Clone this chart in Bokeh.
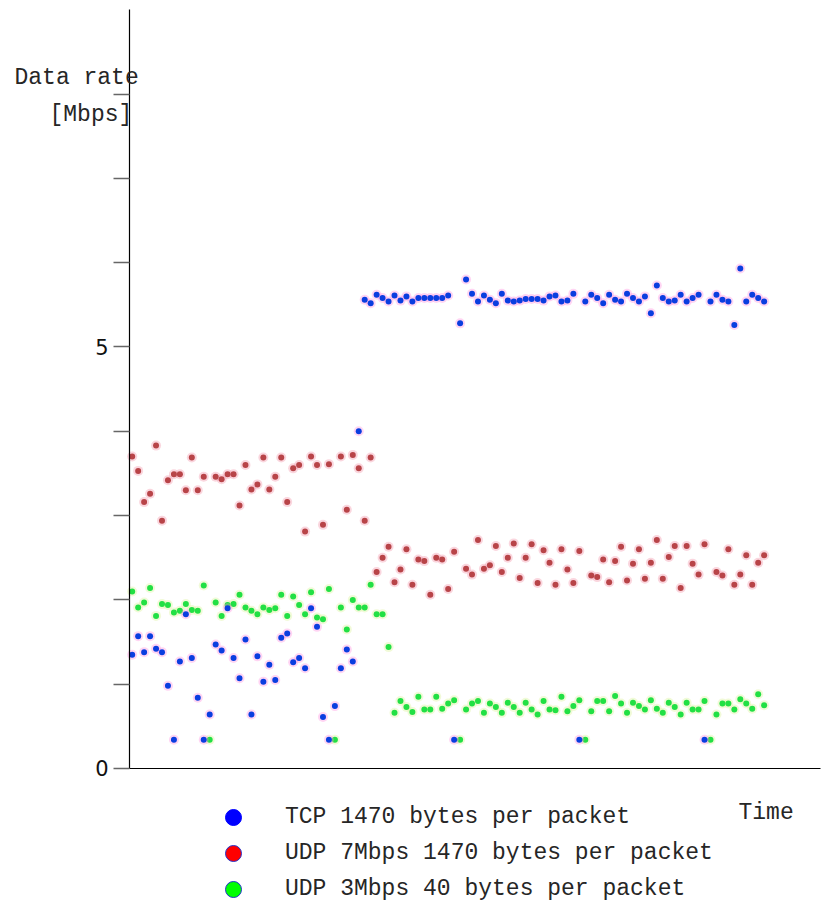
from bokeh.plotting import figure
from bokeh.models import Range1d, FixedTicker, Label, Legend, LegendItem
from bokeh.embed import file_html
from bokeh.resources import INLINE
import numpy as np

# sample number (time axis, no tick labels)
samples = list(range(107))

# TCP 1470 bytes per packet [Mbps]
tcp = [1.35, 1.57, 1.38, 1.57, 1.42, 1.38, 0.98, 0.34, 1.27, 1.83,
       1.31, 0.84, 0.34, 0.64, 1.47, 1.40, 1.90, 1.31, 1.07, 1.53,
       0.64, 1.33, 1.03, 1.23, 1.05, 1.55, 1.60, 1.26, 1.31, 1.19,
       1.90, 1.68, 0.61, 0.34, 0.74, 1.19, 1.41, 1.27, 4.00, 5.56,
       5.52, 5.62, 5.58, 5.54, 5.61, 5.55, 5.60, 5.54, 5.58, 5.58,
       5.58, 5.58, 5.58, 5.61, 0.34, 5.28, 5.80, 5.63, 5.54, 5.61,
       5.56, 5.52, 5.63, 5.55, 5.54, 5.55, 5.57, 5.57, 5.57, 5.55,
       5.60, 5.61, 5.54, 5.55, 5.63, 0.34, 5.54, 5.62, 5.58, 5.52,
       5.62, 5.56, 5.54, 5.63, 5.58, 5.54, 5.60, 5.40, 5.73, 5.58,
       5.54, 5.55, 5.62, 5.54, 5.58, 5.62, 0.34, 5.54, 5.62, 5.56,
       5.54, 5.26, 5.93, 5.54, 5.62, 5.58, 5.54]

# UDP 7Mbps 1470 bytes per packet [Mbps] (None = no sample)
udp7 = [3.70, 3.53, 3.16, 3.26, 3.83, 2.94, 3.42, 3.49, 3.49, 3.30,
        3.69, 3.30, 3.46, None, 3.46, 3.43, 3.49, 3.49, 3.12, 3.60,
        3.31, 3.37, 3.69, 3.31, 3.46, 3.69, 3.16, 3.56, 3.60, 2.81,
        3.70, 3.60, 2.89, 3.61, None, 3.70, 3.07, 3.72, 3.56, 2.94,
        3.69, 2.33, 2.50, 2.63, 2.21, 2.36, 2.60, 2.18, 2.48, 2.46,
        2.06, 2.50, 2.48, 2.13, 2.57, None, 2.37, 2.30, 2.71, 2.37,
        2.41, 2.64, 2.33, 2.50, 2.67, 2.26, 2.50, 2.66, 2.20, 2.59,
        2.44, 2.18, 2.60, 2.36, 2.20, 2.58, None, 2.29, 2.27, 2.48,
        2.21, 2.46, 2.63, 2.23, 2.43, 2.60, 2.25, 2.44, 2.71, 2.25,
        2.51, 2.64, 2.14, 2.64, 2.43, 2.30, 2.66, None, 2.33, 2.29,
        2.60, 2.18, 2.30, 2.53, 2.18, 2.44, 2.53]

# UDP 3Mbps 40 bytes per packet [Mbps]
udp3 = [2.10, 1.91, 1.97, 2.14, 1.81, 1.95, 1.94, 1.85, 1.87, 1.95,
        1.88, 1.87, 2.17, 0.34, 1.97, 1.81, 1.94, 1.95, 2.06, 1.91,
        1.87, 1.83, 1.91, 1.88, 1.90, 2.06, 1.81, 2.04, 1.94, 1.83,
        2.09, 1.79, 1.77, 2.13, 0.34, 1.91, 1.65, 2.00, 1.91, 1.91,
        2.18, 1.83, 1.83, 1.44, 0.66, 0.80, 0.73, 0.67, 0.85, 0.70,
        0.70, 0.85, 0.71, 0.77, 0.81, 0.34, 0.70, 0.77, 0.80, 0.66,
        0.77, 0.73, 0.66, 0.78, 0.73, 0.66, 0.78, 0.70, 0.64, 0.80,
        0.70, 0.69, 0.85, 0.68, 0.74, 0.81, 0.34, 0.68, 0.80, 0.80,
        0.68, 0.86, 0.77, 0.66, 0.78, 0.74, 0.70, 0.81, 0.71, 0.66,
        0.78, 0.73, 0.64, 0.78, 0.70, 0.70, 0.80, 0.34, 0.64, 0.77,
        0.77, 0.70, 0.82, 0.77, 0.71, 0.88, 0.75]

y_ticks = [0, 1, 2, 3, 4, 5, 6, 7, 8]
y_tick_labels = {0: "0", 5: "5"}
y_axis_extent = (0, 9)
x_axis_extent = (-0.45, 115.45)

series_names = ["TCP 1470 bytes per packet",
                "UDP 7Mbps 1470 bytes per packet",
                "UDP 3Mbps 40 bytes per packet"]

MONO = "Liberation Mono"
TEXT_COLOR = "#262626"
W, H = 821, 907

# The frame covers the whole canvas; the axes are pinned inside it.
p = figure(width=W, height=H, output_backend="svg", toolbar_location=None,
           x_range=Range1d(-22.09, 115.62), y_range=Range1d(-1.649, 9.110),
           min_border=0)
p.outline_line_color = None
p.grid.visible = False
p.background_fill_color = "white"
p.border_fill_color = "white"

# y axis
ya = p.yaxis[0]
ya.fixed_location = x_axis_extent[0]
ya.bounds = y_axis_extent
ya.ticker = FixedTicker(ticks=y_ticks)
ya.major_label_overrides = {t: y_tick_labels.get(t, "") for t in y_ticks}
ya.minor_tick_line_color = None
ya.major_tick_in = 0
ya.major_tick_out = 16
ya.major_tick_line_color = "#666666"
ya.major_tick_line_width = 1.5
ya.axis_line_color = "black"
ya.axis_line_width = 1.2
ya.major_label_standoff = 5
ya.major_label_text_font = "DejaVu Sans"
ya.major_label_text_font_size = "21px"
ya.major_label_text_color = "#111111"

# x axis: plain line
xa = p.xaxis[0]
xa.fixed_location = y_axis_extent[0]
xa.bounds = x_axis_extent
xa.ticker = FixedTicker(ticks=[])
xa.major_label_text_font_size = "0px"
xa.major_tick_line_color = None
xa.minor_tick_line_color = None
xa.axis_line_color = "black"
xa.axis_line_width = 1.2

x = np.array(samples, dtype=float)
tcp_v = np.array(tcp, dtype=float)
udp7_v = np.array(udp7, dtype=float)
udp3_v = np.array(udp3, dtype=float)

styles = [
    (udp7_v, "#b84448", "#f08aa0"),
    (udp3_v, "#22e044", "#d8f090"),
    (tcp_v, "#0a3ee0", "#ff88dd"),
]
for vals, dot, halo in styles:
    p.scatter(x, vals, size=10, marker="circle", fill_color=halo, fill_alpha=0.35, line_color=None)
    p.scatter(x, vals, size=6, marker="circle", fill_color=dot, line_color=None)

# hidden renderers that only supply the legend swatches
r_tcp = p.scatter(x, tcp_v, marker="circle", fill_color="#0000ff", line_color="#0000ff", visible=False)
r_u7 = p.scatter(x, udp7_v, marker="circle", fill_color="#ff0000", line_color="#2233cc", visible=False)
r_u3 = p.scatter(x, udp3_v, marker="circle", fill_color="#00ff00", line_color="#2233cc", visible=False)

# one single-row legend per series (rows 36 px apart, 16 px swatches)
row_offsets = [70, 34, -2]
for name, rend, off in zip(series_names, [r_tcp, r_u7, r_u3], row_offsets):
    lg = Legend(items=[LegendItem(label=name, renderers=[rend], index=0)],
                location=(213, off), orientation="vertical",
                glyph_width=40, glyph_height=40, spacing=0, padding=0, margin=0,
                label_standoff=32, label_text_font=MONO, label_text_font_size="23px",
                label_text_color=TEXT_COLOR, click_policy="none",
                border_line_color=None, background_fill_alpha=0)
    p.add_layout(lg, "center")

for txt, lx, ly in [("Data rate", 14, H - 77), ("[Mbps]", 49, H - 114), ("Time", 738, H - 812)]:
    p.add_layout(Label(x=lx, y=ly, x_units="screen", y_units="screen", text=txt,
                       text_font=MONO, text_font_size="23px", text_color=TEXT_COLOR,
                       text_baseline="middle", text_align="left"))

open("out.html", "w").write(file_html(p, INLINE))
